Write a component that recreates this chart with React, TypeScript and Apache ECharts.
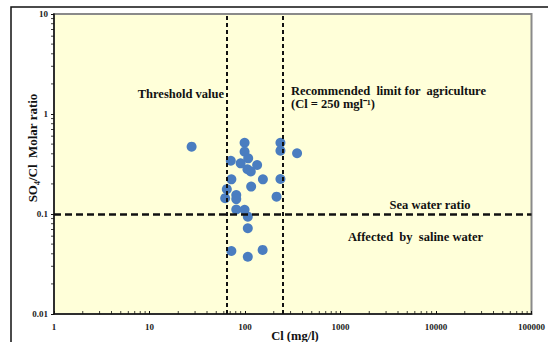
import React, { useEffect, useRef } from "react";
import * as echarts from "echarts";

const clValues = [27.6, 99, 99, 108, 71, 90, 134, 106, 115, 72, 154, 116, 64.5, 62, 81, 81, 81, 99, 107, 107, 72, 107, 153, 235, 235, 351, 235, 214];
const ratioValues = [0.471, 0.516, 0.42, 0.36, 0.341, 0.321, 0.309, 0.28, 0.266, 0.222, 0.222, 0.188, 0.177, 0.144, 0.155, 0.141, 0.111, 0.11, 0.094, 0.072, 0.0427, 0.0374, 0.0437, 0.516, 0.43, 0.405, 0.224, 0.149];

const thresholdCl = 64;
const recommendedCl = 250;
const seaWaterRatio = 0.1;

const xDecades = [1, 10, 100, 1000, 10000];
const yDecades = [0.01, 0.1, 1];
const minorMultipliers = [2, 3, 4, 5, 6, 7, 8, 9];

const FONT = "'Liberation Serif', 'Times New Roman', serif";

export default function App() {
  const ref = useRef<HTMLDivElement>(null);
  useEffect(() => {
    if (!ref.current) return;
    const chart = echarts.init(ref.current, undefined, { renderer: "svg" });
    const points = clValues.map((c, i) => [c, ratioValues[i]]);
    const xMinor: number[][] = [];
    xDecades.forEach((d) => minorMultipliers.forEach((m) => xMinor.push([d * m, 0.01])));
    const yMinor: number[][] = [];
    yDecades.forEach((d) => minorMultipliers.forEach((m) => yMinor.push([1, +(d * m).toPrecision(6)])));
    const fmt = (v: number) => String(+Number(v).toPrecision(6));
    const labelStyle = { fontFamily: FONT, fontWeight: "bold" as const, fontSize: 9, color: "#222" };
    const annot = (text: string, x: number, y: number, align: string = "left", size = 12.5) => ({
      type: "text",
      x,
      y,
      style: { text, fill: "#111", font: `bold ${size}px ${FONT}`, textAlign: align, textVerticalAlign: "middle" },
      silent: true,
    });
    chart.setOption({
      animation: false,
      grid: {
        left: 54,
        top: 14,
        right: 14,
        bottom: 28,
        show: true,
        backgroundColor: "#FFFFD9",
        borderColor: "#8a8a8a",
        borderWidth: 2,
      },
      xAxis: {
        type: "log",
        logBase: 10,
        min: 1,
        max: 100000,
        axisLine: { lineStyle: { color: "#111", width: 1.5 } },
        axisTick: { inside: true, length: 3, lineStyle: { color: "#111" } },
        axisLabel: { ...labelStyle, margin: 8, formatter: fmt },
        splitLine: { show: false },
      },
      yAxis: {
        type: "log",
        logBase: 10,
        min: 0.01,
        max: 10,
        axisLine: { lineStyle: { color: "#111", width: 1.5 } },
        axisTick: { inside: false, length: 3, lineStyle: { color: "#111" } },
        axisLabel: { ...labelStyle, margin: 6, formatter: fmt },
        splitLine: { show: false },
      },
      series: [
        {
          type: "scatter",
          data: xMinor,
          symbol: "rect",
          symbolSize: [1, 3],
          symbolOffset: [0, -1.5],
          itemStyle: { color: "#111" },
          silent: true,
          clip: false,
          z: 1,
        },
        {
          type: "scatter",
          data: yMinor,
          symbol: "rect",
          symbolSize: [3, 1],
          symbolOffset: [-1.5, 0],
          itemStyle: { color: "#111" },
          silent: true,
          clip: false,
          z: 1,
        },
        {
          type: "scatter",
          data: points,
          symbolSize: 10,
          itemStyle: { color: "#4A7DC0", opacity: 1 },
          z: 3,
          markLine: {
            silent: true,
            symbol: "none",
            label: { show: false },
            data: [
              { xAxis: thresholdCl, lineStyle: { type: [4, 3], width: 2, color: "#111" } },
              { xAxis: recommendedCl, lineStyle: { type: [4, 3], width: 2, color: "#111" } },
              { yAxis: seaWaterRatio, lineStyle: { type: [7, 4], width: 2.5, color: "#111" } },
            ],
          },
        },
      ],
      graphic: [
        {
          type: "rect",
          shape: { x: 11, y: 7, width: 600, height: 400 },
          style: { fill: "none", stroke: "#111", lineWidth: 1.5 },
          silent: true,
        },
        annot("Threshold value", 224, 94, "right"),
        annot("Recommended  limit for  agriculture", 291, 91),
        annot("(Cl = 250 mgl\u207B\u00B9)", 291, 104),
        annot("Sea water ratio", 430, 205, "center"),
        annot("Affected  by  saline water", 348, 237),
        {
          type: "text",
          x: 32,
          y: 148,
          rotation: Math.PI / 2,
          style: { text: "SO\u2084/Cl  Molar ratio", fill: "#111", font: `bold 13px ${FONT}`, textAlign: "center", textVerticalAlign: "middle" },
          silent: true,
        },
        {
          type: "text",
          x: 295,
          y: 336,
          style: { text: "Cl (mg/l)", fill: "#111", font: `bold 12.5px ${FONT}`, textAlign: "center", textVerticalAlign: "middle" },
          silent: true,
        },
      ],
    });
    return () => chart.dispose();
  }, []);
  return <div ref={ref} style={{ position: "absolute", left: 0, top: 0, width: 548, height: 342 }} />;
}
